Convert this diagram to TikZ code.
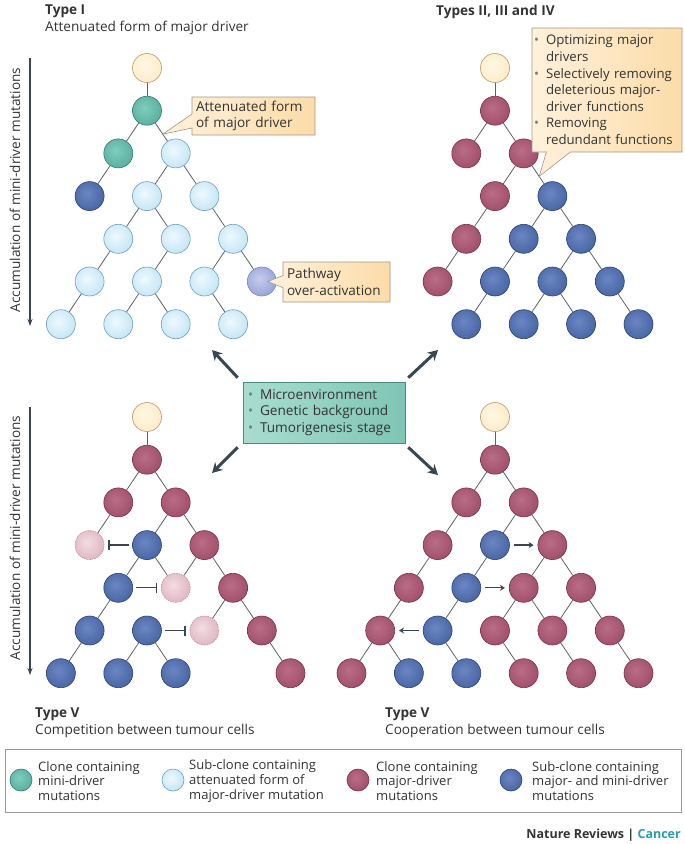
\documentclass[tikz,border=0pt]{standalone}
\usepackage{fontspec}
\setmainfont{Open Sans}
\usetikzlibrary{arrows.meta,shapes.callouts,calc}

\definecolor{txt}{HTML}{333333}
\definecolor{edgegray}{HTML}{5E6266}
\definecolor{arrowgray}{HTML}{3A4750}
\definecolor{bulgray}{HTML}{7A7A7A}
\definecolor{maroonL}{HTML}{BA6D86}
\definecolor{maroonD}{HTML}{8E3A57}
\definecolor{maroonB}{HTML}{7A3049}
\definecolor{blueL}{HTML}{6A87C3}
\definecolor{blueD}{HTML}{324E8E}
\definecolor{blueB}{HTML}{2A4275}
\definecolor{tealL}{HTML}{7FCDBD}
\definecolor{tealD}{HTML}{3E9B8A}
\definecolor{tealB}{HTML}{2E7C6E}
\definecolor{lightL}{HTML}{EEF9FE}
\definecolor{lightD}{HTML}{A9D8EF}
\definecolor{lightB}{HTML}{6C9FBE}
\definecolor{yellowL}{HTML}{FFF7E4}
\definecolor{yellowD}{HTML}{FDE4B4}
\definecolor{yellowB}{HTML}{B8996A}
\definecolor{pathL}{HTML}{C4CCEE}
\definecolor{pathD}{HTML}{7B88C5}
\definecolor{fadedL}{HTML}{F3DDE3}
\definecolor{fadedD}{HTML}{D09BAB}
\definecolor{fadedB}{HTML}{C58E9E}
\definecolor{callL}{HTML}{FFF1DC}
\definecolor{callR}{HTML}{FCDCA8}
\definecolor{callB}{HTML}{A39786}
\definecolor{boxL}{HTML}{A8DDD0}
\definecolor{boxR}{HTML}{7FC5B5}
\definecolor{boxB}{HTML}{4A8A81}
\definecolor{cancer}{HTML}{2A9CB0}

\pgfdeclareradialshading{maroonball}{\pgfpoint{-5bp}{5bp}}{color(0bp)=(maroonL);color(50bp)=(maroonD);color(80bp)=(maroonD)}
\pgfdeclareradialshading{blueball}{\pgfpoint{-5bp}{5bp}}{color(0bp)=(blueL);color(50bp)=(blueD);color(80bp)=(blueD)}
\pgfdeclareradialshading{tealball}{\pgfpoint{-5bp}{5bp}}{color(0bp)=(tealL);color(50bp)=(tealD);color(80bp)=(tealD)}
\pgfdeclareradialshading{lightball}{\pgfpoint{-5bp}{5bp}}{color(0bp)=(lightL);color(50bp)=(lightD);color(80bp)=(lightD)}
\pgfdeclareradialshading{yellowball}{\pgfpoint{-5bp}{5bp}}{color(0bp)=(yellowL);color(50bp)=(yellowD);color(80bp)=(yellowD)}
\pgfdeclareradialshading{pathball}{\pgfpoint{-5bp}{5bp}}{color(0bp)=(pathL);color(50bp)=(pathD);color(80bp)=(pathD)}
\pgfdeclareradialshading{fadedball}{\pgfpoint{-5bp}{5bp}}{color(0bp)=(fadedL);color(50bp)=(fadedD);color(80bp)=(fadedD)}

\newcommand{\blt}{\makebox[12pt][l]{\textcolor{bulgray}{\textbullet}}}
\newcommand{\ind}{\hspace*{12pt}}

\tikzset{
  clone/.style={circle, minimum size=29pt, inner sep=0pt, line width=0.6pt, shade},
  rootc/.style={clone, draw=yellowB, shading=yellowball},
  minic/.style={clone, draw=tealB, shading=tealball},
  attc/.style={clone, draw=lightB, shading=lightball},
  majc/.style={clone, draw=maroonB, shading=maroonball},
  bothc/.style={clone, draw=blueB, shading=blueball},
  overc/.style={clone, draw=pathD, shading=pathball},
  lostc/.style={clone, draw=fadedB, dash pattern=on 1.6pt off 1pt, shading=fadedball},
  edge/.style={draw=edgegray, line width=0.8pt},
  callbox/.style={rectangle callout, draw=callB, line width=0.6pt, left color=callL, right color=callR,
    align=left, inner xsep=4pt, inner ysep=3pt},
  accum/.style={draw=arrowgray, line width=1.1pt, -{Stealth[length=7pt,width=5pt]}},
  push/.style={draw=arrowgray, line width=3pt, -{Stealth[length=10pt,width=11pt]}},
  inhib/.style={draw=arrowgray, line width=1.3pt, -{Bar[width=10pt]}, shorten <=3pt, shorten >=4pt},
  coop/.style={draw=arrowgray, line width=1.3pt, -{Stealth[length=5pt,width=6pt]}, shorten <=4pt, shorten >=4pt},
  legc/.style={minimum size=22pt},
  lbl/.style={anchor=base west, inner sep=0pt},
}

\begin{document}
\begin{tikzpicture}[x=1pt, y=-1pt, font=\fontsize{13.6}{16.6}\selectfont, text=txt]
\useasboundingbox (0,0) rectangle (685,844);

% headings
\node[lbl, font=\fontsize{13.6}{16}\selectfont\bfseries] (hI) at (45,14.5) {Type I};
\node[lbl] (hIs) at (45,31) {Attenuated form of major driver};
\node[lbl, font=\fontsize{13.6}{16}\selectfont\bfseries] (hII) at (436,15.5) {Types II, III and IV};
\node[lbl, font=\fontsize{13.6}{16}\selectfont\bfseries] (hVa) at (35,717) {Type V};
\node[lbl] (hVas) at (35,734) {Competition between tumour cells};
\node[lbl, font=\fontsize{13.6}{16}\selectfont\bfseries] (hVb) at (385,717) {Type V};
\node[lbl] (hVbs) at (385,734) {Cooperation between tumour cells};

% accumulation arrows
\coordinate (vA1) at (30,58);
\coordinate (vA2) at (30,326);
\draw[accum] (vA1) -- (vA2);
\node[rotate=90, inner sep=0pt] (accA) at (15,190) {Accumulation of mini-driver mutations};
\coordinate (vC1) at (30,407);
\coordinate (vC2) at (30,675);
\draw[accum] (vC1) -- (vC2);
\node[rotate=90, inner sep=0pt] (accC) at (15,538) {Accumulation of mini-driver mutations};

% Type I tree
\begin{scope}[shift={(147,68)}, x=28.7pt, y=-42.7pt]
\node[rootc] (A0) at (0,0) {};
\node[minic] (A1) at (0,1) {};
\node[minic] (A20) at (-1,2) {};
\node[attc] (A21) at (1,2) {};
\node[bothc] (A30) at (-2,3) {};
\node[attc] (A31) at (0,3) {};
\node[attc] (A32) at (2,3) {};
\node[attc] (A40) at (-1,4) {};
\node[attc] (A41) at (1,4) {};
\node[attc] (A42) at (3,4) {};
\node[attc] (A50) at (-2,5) {};
\node[attc] (A51) at (0,5) {};
\node[attc] (A52) at (2,5) {};
\node[overc] (A53) at (4,5) {};
\node[attc] (A60) at (-3,6) {};
\node[attc] (A61) at (-1,6) {};
\node[attc] (A62) at (1,6) {};
\node[attc] (A63) at (3,6) {};
\end{scope}
\foreach \a/\b in {A0/A1,A1/A20,A1/A21,A20/A30,A21/A31,A21/A32,A31/A40,A31/A41,A32/A42,
  A40/A50,A41/A51,A42/A52,A42/A53,A50/A60,A51/A61,A51/A62,A52/A63}
  \draw[edge] (\a) -- (\b);

% Types II-IV tree
\begin{scope}[shift={(495,68)}, x=28.7pt, y=-42.7pt]
\node[rootc] (B0) at (0,0) {};
\node[majc] (B1) at (0,1) {};
\node[majc] (B20) at (-1,2) {};
\node[majc] (B21) at (1,2) {};
\node[majc] (B30) at (0,3) {};
\node[bothc] (B31) at (2,3) {};
\node[majc] (B40) at (-1,4) {};
\node[bothc] (B41) at (1,4) {};
\node[bothc] (B42) at (3,4) {};
\node[majc] (B50) at (-2,5) {};
\node[bothc] (B51) at (0,5) {};
\node[bothc] (B52) at (2,5) {};
\node[bothc] (B53) at (4,5) {};
\node[bothc] (B60) at (-1,6) {};
\node[bothc] (B61) at (1,6) {};
\node[bothc] (B62) at (3,6) {};
\node[bothc] (B63) at (5,6) {};
\end{scope}
\foreach \a/\b in {B0/B1,B1/B20,B1/B21,B21/B30,B21/B31,B30/B40,B31/B41,B31/B42,
  B40/B50,B41/B51,B42/B52,B42/B53,B51/B60,B52/B61,B52/B62,B53/B63}
  \draw[edge] (\a) -- (\b);

% competition tree
\begin{scope}[shift={(147,417)}, x=28.7pt, y=-42.7pt]
\node[rootc] (C0) at (0,0) {};
\node[majc] (C1) at (0,1) {};
\node[majc] (C20) at (-1,2) {};
\node[majc] (C21) at (1,2) {};
\node[lostc] (C30) at (-2,3) {};
\node[bothc] (C31) at (0,3) {};
\node[majc] (C32) at (2,3) {};
\node[bothc] (C40) at (-1,4) {};
\node[lostc] (C41) at (1,4) {};
\node[majc] (C42) at (3,4) {};
\node[bothc] (C50) at (-2,5) {};
\node[bothc] (C51) at (0,5) {};
\node[lostc] (C52) at (2,5) {};
\node[majc] (C53) at (4,5) {};
\node[bothc] (C60) at (-3,6) {};
\node[bothc] (C61) at (-1,6) {};
\node[bothc] (C62) at (1,6) {};
\node[majc] (C63) at (5,6) {};
\end{scope}
\foreach \a/\b in {C0/C1,C1/C20,C1/C21,C20/C30,C21/C31,C21/C32,C31/C40,C31/C41,C32/C41,C32/C42,
  C40/C50,C42/C52,C42/C53,C50/C60,C51/C61,C51/C62,C53/C63}
  \draw[edge] (\a) -- (\b);
\draw[inhib] (C31) -- (C30);
\draw[inhib] (C40) -- (C41);
\draw[inhib] (C51) -- (C52);

% cooperation tree
\begin{scope}[shift={(495,417)}, x=28.7pt, y=-42.7pt]
\node[rootc] (D0) at (0,0) {};
\node[majc] (D1) at (0,1) {};
\node[majc] (D20) at (-1,2) {};
\node[majc] (D21) at (1,2) {};
\node[majc] (D30) at (-2,3) {};
\node[bothc] (D31) at (0,3) {};
\node[majc] (D32) at (2,3) {};
\node[majc] (D40) at (-3,4) {};
\node[bothc] (D41) at (-1,4) {};
\node[majc] (D42) at (1,4) {};
\node[majc] (D43) at (3,4) {};
\node[majc] (D50) at (-4,5) {};
\node[bothc] (D51) at (-2,5) {};
\node[majc] (D52) at (0,5) {};
\node[majc] (D53) at (2,5) {};
\node[majc] (D54) at (4,5) {};
\node[majc] (D60) at (-5,6) {};
\node[bothc] (D61) at (-3,6) {};
\node[bothc] (D62) at (-1,6) {};
\node[majc] (D63) at (1,6) {};
\node[majc] (D64) at (3,6) {};
\node[majc] (D65) at (5,6) {};
\end{scope}
\foreach \a/\b in {D0/D1,D1/D20,D1/D21,D20/D30,D21/D31,D21/D32,D30/D40,D31/D41,D32/D42,D32/D43,
  D40/D50,D41/D51,D42/D52,D42/D53,D43/D53,D43/D54,D50/D60,D50/D61,D51/D62,D52/D63,D53/D64,D54/D65}
  \draw[edge] (\a) -- (\b);
\draw[coop] (D31) -- (D32);
\draw[coop] (D41) -- (D42);
\draw[coop] (D51) -- (D50);

% callouts
\coordinate (tipA) at ($(A1)!0.55!(A21)$);
\node[callbox, text width=115pt, minimum height=38pt, callout absolute pointer={(tipA)},
  callout pointer width=14pt] (cA) at (253.5,116) {Attenuated form\\of major driver};
\coordinate (tipP) at ($(A53)+(6,0)$);
\node[callbox, text width=99pt, minimum height=40pt, callout absolute pointer={(tipP)},
  callout pointer width=12pt] (cP) at (336.5,282) {Pathway\\over-activation};
\coordinate (tipB) at ($(B21)!0.54!(B31)$);
\node[callbox, text width=146pt, inner xsep=2pt, minimum height=124pt, callout absolute pointer={(tipB)},
  callout pointer width=24pt, font=\fontsize{13.2}{16.6}\selectfont] (cB) at (607,90)
  {\hyphenpenalty=10000\relax
   \blt Optimizing major\\\ind drivers\\\blt Selectively removing\\\ind deleterious major-\\\ind driver functions\\\blt Removing\\\ind redundant functions};

% context box and arrows
\node[draw=boxB, line width=0.6pt, left color=boxL, right color=boxR, minimum width=162pt,
  minimum height=61pt, text width=152pt, align=left, inner xsep=5pt] (ctx) at (324,412.5)
  {\blt Microenvironment\\\blt Genetic background\\\blt Tumorigenesis stage};
\coordinate (toA) at (212,350);
\coordinate (toB) at (438,350);
\coordinate (toC) at (212,473);
\coordinate (toD) at (438,475);
\draw[push] ($(ctx.north west)+(-5,-4)$) -- (toA);
\draw[push] ($(ctx.north east)+(3,-4)$) -- (toB);
\draw[push] ($(ctx.south west)+(-5,4)$) -- (toC);
\draw[push] ($(ctx.south east)+(3,4)$) -- (toD);

% legend
\draw[draw=gray!80, line width=0.8pt] (5,749) rectangle (681,812);
\begin{scope}[font=\fontsize{13}{14.8}\selectfont]
\node[minic, legc] (L1) at (21,780) {};
\node[anchor=west, align=left, inner sep=0pt] (L1t) at (38,781) {Clone containing\\mini-driver\\mutations};
\node[attc, legc] (L2) at (173,780) {};
\node[anchor=west, align=left, inner sep=0pt] (L2t) at (189,781) {Sub-clone containing\\attenuated form of\\major-driver mutation};
\node[majc, legc] (L3) at (358,780) {};
\node[anchor=west, align=left, inner sep=0pt] (L3t) at (376,781) {Clone containing\\major-driver\\mutations};
\node[bothc, legc] (L4) at (511,780) {};
\node[anchor=west, align=left, inner sep=0pt] (L4t) at (532,781) {Sub-clone containing\\major- and mini-driver\\mutations};
\end{scope}

\node[anchor=base east, inner sep=0pt, font=\fontsize{12.5}{14}\selectfont\bfseries] (src) at (681,838)
  {Nature Reviews \textcolor{txt}{|} \textcolor{cancer}{Cancer}};
\end{tikzpicture}
\end{document}
